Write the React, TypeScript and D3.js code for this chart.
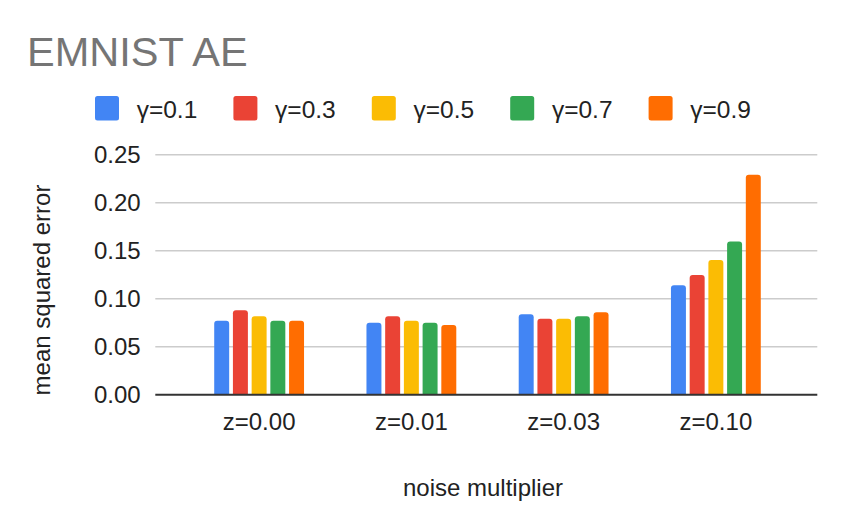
import React from "react";
import * as d3 from "d3";

const categories = ["z=0.00", "z=0.01", "z=0.03", "z=0.10"];
const seriesNames = ["γ=0.1", "γ=0.3", "γ=0.5", "γ=0.7", "γ=0.9"];
const seriesColors = ["#4285F4", "#EA4335", "#FBBC04", "#34A853", "#FF6D01"];
const g01 = [0.077, 0.075, 0.0837, 0.114];
const g03 = [0.088, 0.0817, 0.079, 0.1247];
const g05 = [0.0817, 0.077, 0.079, 0.1403];
const g07 = [0.077, 0.075, 0.0817, 0.1597];
const g09 = [0.077, 0.0726, 0.0858, 0.229];
const seriesValues = [g01, g03, g05, g07, g09];
const yTicks = [0, 0.05, 0.1, 0.15, 0.2, 0.25];

const W = 844;
const H = 530;
const FONT = "'Liberation Sans', Arial, Helvetica, sans-serif";

function topRounded(x: number, y: number, w: number, h: number, r: number) {
  const rr = Math.min(r, w / 2, h);
  return `M${x},${y + h}V${y + rr}Q${x},${y} ${x + rr},${y}H${x + w - rr}Q${x + w},${y} ${x + w},${y + rr}V${y + h}Z`;
}

export default function App() {
  const left = 155.3;
  const right = 817.3;
  const y = d3.scaleLinear().domain([0, 0.25]).range([394.7, 154.7]);
  const x0 = d3
    .scaleBand<string>()
    .domain(categories)
    .range([183, 792])
    .paddingInner(0.41)
    .paddingOuter(0.205);
  const x1 = d3
    .scaleBand<string>()
    .domain(seriesNames)
    .range([0, x0.bandwidth()])
    .paddingInner(0.2);

  return (
    <svg
      width={W}
      height={H}
      style={{ position: "absolute", left: 0, top: 0, background: "#fff" }}
      fontFamily={FONT}
    >
      <rect x={0} y={0} width={W} height={H} fill="#fff" />
      <text x={27} y={66} fontSize={41.5} fill="#757575">
        EMNIST AE
      </text>
      {seriesNames.map((s, i) => {
        const lx = 95 + i * 138.4;
        return (
          <g key={s}>
            <rect x={lx} y={96} width={24} height={24.5} rx={2.5} fill={seriesColors[i]} />
            <text x={lx + 41.7} y={118.3} fontSize={24.5} fill="#222">
              {s}
            </text>
          </g>
        );
      })}
      {yTicks.map((t) => (
        <g key={t}>
          {t !== 0 && (
            <line x1={left} x2={right} y1={y(t)} y2={y(t)} stroke="#cccccc" strokeWidth={1.5} />
          )}
          <text x={140.7} y={y(t) + 8.6} fontSize={24} textAnchor="end" fill="#222">
            {d3.format(".2f")(t)}
          </text>
        </g>
      ))}
      {categories.map((c, ci) => (
        <g key={c}>
          {seriesNames.map((s, si) => {
            const v = seriesValues[si][ci];
            const bx = (x0(c) as number) + (x1(s) as number);
            const by = y(v);
            return (
              <path
                key={s}
                d={topRounded(bx, by, x1.bandwidth(), y(0) - by, 3)}
                fill={seriesColors[si]}
              />
            );
          })}
          <text
            x={(x0(c) as number) + x0.bandwidth() / 2}
            y={430}
            fontSize={24}
            textAnchor="middle"
            fill="#222"
          >
            {c}
          </text>
        </g>
      ))}
      <line x1={left} x2={right} y1={y(0)} y2={y(0)} stroke="#333333" strokeWidth={2} />
      <text x={483} y={496} fontSize={24} textAnchor="middle" fill="#222">
        noise multiplier
      </text>
      <text
        transform="translate(50,290) rotate(-90)"
        fontSize={24}
        textAnchor="middle"
        fill="#222"
      >
        mean squared error
      </text>
    </svg>
  );
}
